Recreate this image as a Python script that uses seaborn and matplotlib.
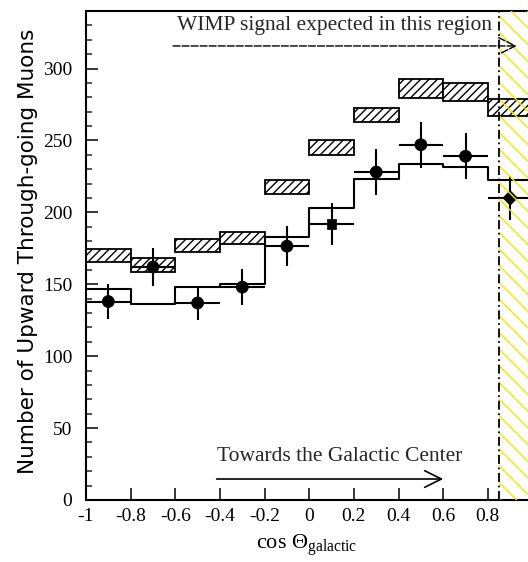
import numpy as np
import pandas as pd
import matplotlib
matplotlib.use("Agg")
import matplotlib.pyplot as plt
import seaborn as sns

# ---- data ----
bin_edges = [-1.0, -0.8, -0.6, -0.4, -0.2, 0.0, 0.2, 0.4, 0.6, 0.8, 1.0]
bin_centers = [-0.9, -0.7, -0.5, -0.3, -0.1, 0.1, 0.3, 0.5, 0.7, 0.9]
observed = [138, 162, 137, 148, 176.5, 192, 228, 247, 239, 210]
observed_err = [12, 13, 12, 12.5, 14, 14.5, 16, 16, 16, 15]
marker_kind = ["circle", "circle", "circle", "circle", "circle",
               "square", "circle", "circle", "circle", "diamond"]
expected = [146.6, 136.6, 148.3, 150.1, 182.6, 202.7, 223.0, 233.9, 231.6, 222.4]
band_low = [165.2, 158.7, 172.5, 177.9, 212.6, 239.7, 262.5, 279.6, 277.5, 267.1]
band_high = [174.4, 168.0, 181.4, 186.5, 222.6, 250.2, 272.9, 292.4, 289.6, 278.7]
wimp_region = [0.85, 1.0]
x_ticks = [-1, -0.8, -0.6, -0.4, -0.2, 0, 0.2, 0.4, 0.6, 0.8, 1]
x_ticklabels = ["-1", "-0.8", "-0.6", "-0.4", "-0.2", "0", "0.2", "0.4", "0.6", "0.8", "1"]
y_ticks = [0, 50, 100, 150, 200, 250, 300]

sns.set_theme(style="ticks")
plt.rcParams["font.family"] = ["Liberation Serif", "DejaVu Serif"]
plt.rcParams["mathtext.fontset"] = "custom"
plt.rcParams["mathtext.rm"] = "Liberation Serif"
plt.rcParams["mathtext.it"] = "Liberation Serif:italic"
plt.rcParams["hatch.linewidth"] = 1.0

fig = plt.figure(figsize=(5.28, 5.62), dpi=100)
fig.patch.set_facecolor("white")
ax = fig.add_axes([86 / 528, 62 / 562, 446.5 / 528, 489 / 562])
ax.set_facecolor("white")

# hatched band (black)
widths = [bin_edges[i + 1] - bin_edges[i] for i in range(len(bin_centers))]
heights = [h - l for h, l in zip(band_high, band_low)]
ax.bar(bin_centers, heights, bottom=band_low, width=widths, facecolor="white",
       edgecolor="black", hatch="////", linewidth=1.3, zorder=2)

# expected histogram
hist_df = pd.DataFrame({"x": bin_edges, "y": expected + [expected[-1]]})
sns.lineplot(data=hist_df, x="x", y="y", drawstyle="steps-post", color="black",
             linewidth=1.5, estimator=None, sort=False, ax=ax, zorder=3)

# data points
pts = pd.DataFrame({"x": bin_centers, "y": observed, "err": observed_err,
                    "kind": marker_kind})
ax.errorbar(pts["x"], pts["y"], yerr=pts["err"], xerr=[w / 2 for w in widths],
            fmt="none", ecolor="black", elinewidth=1.5, capsize=0, zorder=4)
sns.scatterplot(data=pts, x="x", y="y", style="kind", size="kind",
                markers={"circle": "o", "square": "s", "diamond": "D"},
                sizes={"circle": 75, "square": 50, "diamond": 55},
                color="black", edgecolor="black", linewidth=0.5,
                legend=False, ax=ax, zorder=5)

# WIMP region
ax.axvspan(wimp_region[0], wimp_region[1], facecolor="none", edgecolor="#f2e600",
           hatch="\\\\", linewidth=0, zorder=6)
ax.axvline(wimp_region[0], color="black", linestyle=(0, (5, 2, 1, 2)),
           linewidth=1.3, zorder=7)

# annotations
ax.text(-0.594, 330, "WIMP signal expected in this region", fontsize=15.5,
        ha="left", va="center", zorder=8)
ax.annotate("", xy=(0.93, 315.7), xytext=(-0.61, 315.7),
            arrowprops=dict(arrowstyle="->,head_length=0.6,head_width=0.3",
                            linestyle=(0, (5, 1.5)), color="black", lw=1.0,
                            mutation_scale=20, shrinkA=0, shrinkB=0), zorder=8)
ax.text(-0.415, 30, "Towards the Galactic Center", fontsize=15.5,
        ha="left", va="center")
ax.annotate("", xy=(0.6, 14.6), xytext=(-0.415, 14.6),
            arrowprops=dict(arrowstyle="->,head_length=0.6,head_width=0.3",
                            color="black", lw=1.2, mutation_scale=20,
                            shrinkA=0, shrinkB=0))

# axes
ax.set_xlim(-1, 1)
ax.set_ylim(0, 340)
ax.set_xticks(x_ticks)
ax.set_xticklabels(x_ticklabels)
ax.set_yticks(y_ticks)
ax.set_yticks(np.arange(0, 341, 10), minor=True)
ax.tick_params(axis="both", which="major", direction="in", length=8.6, width=1.1,
               labelsize=14, colors="black", top=False, right=False)
ax.tick_params(axis="both", which="minor", direction="in", length=4.3, width=1.1,
               top=False, right=False)
ax.tick_params(axis="x", which="minor", bottom=False)
ax.tick_params(axis="x", pad=6)
ax.tick_params(axis="y", pad=10)
for s in ax.spines.values():
    s.set_linewidth(1.5)
    s.set_color("black")
    s.set_visible(True)

ax.set_ylabel("Number of Upward Through-going Muons", family=["DejaVu Sans"],
              fontsize=15.5, color="black", va="center")
ax.yaxis.set_label_coords(-0.13, 0.509)
ax.set_xlabel(r"cos $\mathrm{\Theta_{galactic}}$", fontsize=16, color="black",
              va="top")
ax.xaxis.set_label_coords(0.495, -0.067)

fig.savefig("out.png", dpi=100, facecolor="white")
